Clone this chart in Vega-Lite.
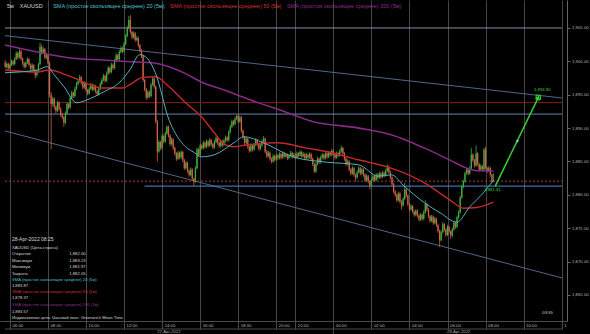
{
"$schema": "https://vega.github.io/schema/vega-lite/v6.json",
"width": 567, "height": 321,
"autosize": {"type": "none"},
"padding": {"left": 0, "top": 0, "right": 23, "bottom": 13},
"background": "#000000",
"config": {"view": {"stroke": null}, "font": "Liberation Sans"},
"resolve": {"scale": {"color": "independent"}},
"datasets": {
"k": [
{"i":-3,"o":1899.8,"h":1900.2,"l":1899.0,"c":1899.2},{"i":-2,"o":1899.2,"h":1899.9,"l":1898.9,"c":1899.6},{"i":-1,"o":1899.6,"h":1899.8,"l":1898.7,"c":1899.0},{"i":0,"o":1899.0,"h":1899.7,"l":1898.8,"c":1899.5},{"i":1,"o":1899.5,"h":1900.3,"l":1899.3,"c":1900.0},{"i":2,"o":1900.0,"h":1900.2,"l":1899.3,"c":1899.6},{"i":3,"o":1899.6,"h":1900.6,"l":1899.4,"c":1900.4},{"i":4,"o":1900.4,"h":1901.5,"l":1900.2,"c":1901.2},{"i":5,"o":1901.2,"h":1901.4,"l":1900.3,"c":1900.6},{"i":6,"o":1900.6,"h":1901.9,"l":1900.4,"c":1901.5},{"i":7,"o":1901.5,"h":1901.7,"l":1900.1,"c":1900.4},{"i":8,"o":1900.4,"h":1900.6,"l":1899.4,"c":1899.7},{"i":9,"o":1899.7,"h":1899.9,"l":1898.9,"c":1899.2},{"i":10,"o":1899.2,"h":1900.0,"l":1899.0,"c":1899.8},{"i":11,"o":1899.8,"h":1900.6,"l":1899.6,"c":1900.3},{"i":12,"o":1900.3,"h":1900.5,"l":1899.2,"c":1899.5},{"i":13,"o":1899.5,"h":1899.7,"l":1898.6,"c":1898.9},{"i":14,"o":1898.9,"h":1899.7,"l":1898.7,"c":1899.4},{"i":15,"o":1899.4,"h":1899.6,"l":1898.3,"c":1898.6},{"i":16,"o":1898.6,"h":1898.8,"l":1897.4,"c":1897.9},{"i":17,"o":1897.9,"h":1898.7,"l":1897.7,"c":1898.5},{"i":18,"o":1898.5,"h":1899.8,"l":1898.3,"c":1899.6},{"i":19,"o":1899.6,"h":1902.8,"l":1899.4,"c":1902.2},{"i":20,"o":1902.2,"h":1902.5,"l":1901.0,"c":1901.3},{"i":21,"o":1901.3,"h":1902.1,"l":1901.1,"c":1901.8},{"i":22,"o":1901.8,"h":1902.0,"l":1900.3,"c":1900.6},{"i":23,"o":1900.6,"h":1901.2,"l":1900.3,"c":1900.9},{"i":24,"o":1900.9,"h":1901.1,"l":1899.5,"c":1899.8},{"i":25,"o":1899.8,"h":1900.0,"l":1894.6,"c":1895.0},{"i":26,"o":1895.0,"h":1895.4,"l":1886.8,"c":1893.6},{"i":27,"o":1893.6,"h":1894.7,"l":1893.2,"c":1894.4},{"i":28,"o":1894.4,"h":1894.6,"l":1892.8,"c":1893.2},{"i":29,"o":1893.2,"h":1893.4,"l":1892.2,"c":1892.6},{"i":30,"o":1892.6,"h":1894.1,"l":1892.4,"c":1893.8},{"i":31,"o":1893.8,"h":1894.0,"l":1892.6,"c":1892.9},{"i":32,"o":1892.9,"h":1893.1,"l":1891.7,"c":1892.0},{"i":33,"o":1892.0,"h":1892.3,"l":1891.3,"c":1891.6},{"i":34,"o":1891.6,"h":1891.8,"l":1890.2,"c":1890.8},{"i":35,"o":1890.8,"h":1892.5,"l":1890.6,"c":1892.2},{"i":36,"o":1892.2,"h":1893.9,"l":1892.0,"c":1893.6},{"i":37,"o":1893.6,"h":1893.8,"l":1892.8,"c":1893.1},{"i":38,"o":1893.1,"h":1894.8,"l":1892.9,"c":1894.5},{"i":39,"o":1894.5,"h":1895.6,"l":1894.3,"c":1895.3},{"i":40,"o":1895.3,"h":1895.5,"l":1894.5,"c":1894.8},{"i":41,"o":1894.8,"h":1896.2,"l":1894.6,"c":1895.9},{"i":42,"o":1895.9,"h":1896.9,"l":1895.7,"c":1896.6},{"i":43,"o":1896.6,"h":1897.3,"l":1896.4,"c":1897.0},{"i":44,"o":1897.0,"h":1898.0,"l":1896.8,"c":1897.6},{"i":45,"o":1897.6,"h":1897.8,"l":1896.5,"c":1896.8},{"i":46,"o":1896.8,"h":1897.0,"l":1895.8,"c":1896.1},{"i":47,"o":1896.1,"h":1897.0,"l":1895.9,"c":1896.7},{"i":48,"o":1896.7,"h":1896.9,"l":1895.4,"c":1895.7},{"i":49,"o":1895.7,"h":1895.9,"l":1894.9,"c":1895.2},{"i":50,"o":1895.2,"h":1896.2,"l":1895.0,"c":1895.9},{"i":51,"o":1895.9,"h":1896.8,"l":1895.7,"c":1896.5},{"i":52,"o":1896.5,"h":1896.7,"l":1895.5,"c":1895.8},{"i":53,"o":1895.8,"h":1896.6,"l":1895.6,"c":1896.3},{"i":54,"o":1896.3,"h":1896.5,"l":1895.2,"c":1895.5},{"i":55,"o":1895.5,"h":1895.7,"l":1894.8,"c":1895.1},{"i":56,"o":1895.1,"h":1896.2,"l":1894.9,"c":1895.9},{"i":57,"o":1895.9,"h":1896.9,"l":1895.7,"c":1896.6},{"i":58,"o":1896.6,"h":1897.5,"l":1896.4,"c":1897.2},{"i":59,"o":1897.2,"h":1898.1,"l":1897.0,"c":1897.8},{"i":60,"o":1897.8,"h":1898.0,"l":1896.8,"c":1897.1},{"i":61,"o":1897.1,"h":1898.5,"l":1896.9,"c":1898.2},{"i":62,"o":1898.2,"h":1899.3,"l":1898.0,"c":1899.0},{"i":63,"o":1899.0,"h":1899.2,"l":1898.1,"c":1898.4},{"i":64,"o":1898.4,"h":1899.8,"l":1898.2,"c":1899.5},{"i":65,"o":1899.5,"h":1899.7,"l":1898.7,"c":1899.0},{"i":66,"o":1899.0,"h":1900.4,"l":1898.8,"c":1900.1},{"i":67,"o":1900.1,"h":1901.2,"l":1899.9,"c":1900.9},{"i":68,"o":1900.9,"h":1901.1,"l":1900.0,"c":1900.3},{"i":69,"o":1900.3,"h":1901.7,"l":1900.1,"c":1901.4},{"i":70,"o":1901.4,"h":1902.3,"l":1901.2,"c":1902.0},{"i":71,"o":1902.0,"h":1902.2,"l":1901.2,"c":1901.5},{"i":72,"o":1901.5,"h":1902.9,"l":1901.3,"c":1902.6},{"i":73,"o":1902.6,"h":1904.1,"l":1902.4,"c":1903.8},{"i":74,"o":1903.8,"h":1905.3,"l":1903.6,"c":1905.0},{"i":75,"o":1905.0,"h":1906.8,"l":1904.8,"c":1906.2},{"i":76,"o":1906.2,"h":1906.9,"l":1904.1,"c":1904.4},{"i":77,"o":1904.4,"h":1904.6,"l":1903.3,"c":1903.6},{"i":78,"o":1903.6,"h":1904.5,"l":1903.4,"c":1904.2},{"i":79,"o":1904.2,"h":1904.4,"l":1902.9,"c":1903.2},{"i":80,"o":1903.2,"h":1903.8,"l":1903.0,"c":1903.5},{"i":81,"o":1903.5,"h":1903.7,"l":1902.1,"c":1902.4},{"i":82,"o":1902.4,"h":1902.6,"l":1901.3,"c":1901.6},{"i":83,"o":1901.6,"h":1901.8,"l":1900.5,"c":1900.8},{"i":84,"o":1900.8,"h":1901.0,"l":1896.9,"c":1897.2},{"i":85,"o":1897.2,"h":1897.4,"l":1895.5,"c":1895.8},{"i":86,"o":1895.8,"h":1896.0,"l":1894.2,"c":1894.6},{"i":87,"o":1894.6,"h":1895.7,"l":1894.4,"c":1895.4},{"i":88,"o":1895.4,"h":1895.6,"l":1894.5,"c":1894.8},{"i":89,"o":1894.8,"h":1896.8,"l":1894.6,"c":1896.5},{"i":90,"o":1896.5,"h":1897.7,"l":1896.3,"c":1897.4},{"i":91,"o":1897.4,"h":1897.6,"l":1895.9,"c":1896.2},{"i":92,"o":1896.2,"h":1896.4,"l":1890.7,"c":1891.0},{"i":93,"o":1891.0,"h":1891.2,"l":1885.0,"c":1886.5},{"i":94,"o":1886.5,"h":1888.2,"l":1886.3,"c":1887.9},{"i":95,"o":1887.9,"h":1888.1,"l":1886.7,"c":1887.0},{"i":96,"o":1887.0,"h":1889.1,"l":1886.8,"c":1888.8},{"i":97,"o":1888.8,"h":1889.0,"l":1887.7,"c":1888.0},{"i":98,"o":1888.0,"h":1889.5,"l":1887.8,"c":1889.2},{"i":99,"o":1889.2,"h":1890.4,"l":1889.0,"c":1890.2},{"i":100,"o":1890.2,"h":1890.4,"l":1888.6,"c":1888.9},{"i":101,"o":1888.9,"h":1889.1,"l":1887.3,"c":1887.6},{"i":102,"o":1887.6,"h":1888.6,"l":1887.4,"c":1888.3},{"i":103,"o":1888.3,"h":1888.5,"l":1886.7,"c":1887.0},{"i":104,"o":1887.0,"h":1887.2,"l":1885.9,"c":1886.2},{"i":105,"o":1886.2,"h":1886.4,"l":1885.1,"c":1885.4},{"i":106,"o":1885.4,"h":1886.6,"l":1885.2,"c":1886.3},{"i":107,"o":1886.3,"h":1886.5,"l":1885.3,"c":1885.6},{"i":108,"o":1885.6,"h":1886.7,"l":1885.4,"c":1886.4},{"i":109,"o":1886.4,"h":1886.6,"l":1884.9,"c":1885.2},{"i":110,"o":1885.2,"h":1885.4,"l":1883.7,"c":1884.0},{"i":111,"o":1884.0,"h":1885.1,"l":1883.8,"c":1884.8},{"i":112,"o":1884.8,"h":1885.0,"l":1883.3,"c":1883.6},{"i":113,"o":1883.6,"h":1883.8,"l":1882.7,"c":1883.0},{"i":114,"o":1883.0,"h":1884.1,"l":1882.8,"c":1883.8},{"i":115,"o":1883.8,"h":1884.0,"l":1882.1,"c":1882.4},{"i":116,"o":1882.4,"h":1882.6,"l":1881.3,"c":1882.0},{"i":117,"o":1882.0,"h":1884.3,"l":1881.8,"c":1884.0},{"i":118,"o":1884.0,"h":1887.1,"l":1883.8,"c":1886.8},{"i":119,"o":1886.8,"h":1887.0,"l":1885.7,"c":1886.0},{"i":120,"o":1886.0,"h":1887.7,"l":1885.8,"c":1887.4},{"i":121,"o":1887.4,"h":1887.6,"l":1886.7,"c":1887.0},{"i":122,"o":1887.0,"h":1888.1,"l":1886.8,"c":1887.8},{"i":123,"o":1887.8,"h":1888.0,"l":1886.9,"c":1887.2},{"i":124,"o":1887.2,"h":1888.3,"l":1887.0,"c":1888.0},{"i":125,"o":1888.0,"h":1888.2,"l":1887.1,"c":1887.4},{"i":126,"o":1887.4,"h":1888.5,"l":1887.2,"c":1888.2},{"i":127,"o":1888.2,"h":1888.4,"l":1887.3,"c":1887.6},{"i":128,"o":1887.6,"h":1887.8,"l":1886.8,"c":1887.1},{"i":129,"o":1887.1,"h":1888.2,"l":1886.9,"c":1887.9},{"i":130,"o":1887.9,"h":1888.8,"l":1887.7,"c":1888.5},{"i":131,"o":1888.5,"h":1888.7,"l":1887.5,"c":1887.8},{"i":132,"o":1887.8,"h":1888.0,"l":1887.0,"c":1887.3},{"i":133,"o":1887.3,"h":1888.3,"l":1887.1,"c":1888.0},{"i":134,"o":1888.0,"h":1888.2,"l":1887.2,"c":1887.5},{"i":135,"o":1887.5,"h":1888.4,"l":1887.3,"c":1888.1},{"i":136,"o":1888.1,"h":1888.9,"l":1887.9,"c":1888.6},{"i":137,"o":1888.6,"h":1888.8,"l":1887.9,"c":1888.2},{"i":138,"o":1888.2,"h":1889.7,"l":1888.0,"c":1889.4},{"i":139,"o":1889.4,"h":1890.5,"l":1889.2,"c":1890.2},{"i":140,"o":1890.2,"h":1891.3,"l":1890.0,"c":1891.0},{"i":141,"o":1891.0,"h":1891.2,"l":1890.3,"c":1890.6},{"i":142,"o":1890.6,"h":1891.7,"l":1890.4,"c":1891.4},{"i":143,"o":1891.4,"h":1892.0,"l":1891.2,"c":1891.8},{"i":144,"o":1891.8,"h":1892.0,"l":1890.7,"c":1891.0},{"i":145,"o":1891.0,"h":1891.9,"l":1890.8,"c":1891.6},{"i":146,"o":1891.6,"h":1891.8,"l":1889.3,"c":1889.6},{"i":147,"o":1889.6,"h":1889.8,"l":1888.3,"c":1888.6},{"i":148,"o":1888.6,"h":1888.8,"l":1887.5,"c":1887.8},{"i":149,"o":1887.8,"h":1888.7,"l":1887.6,"c":1888.4},{"i":150,"o":1888.4,"h":1888.6,"l":1886.9,"c":1887.2},{"i":151,"o":1887.2,"h":1887.4,"l":1886.3,"c":1886.6},{"i":152,"o":1886.6,"h":1887.7,"l":1886.4,"c":1887.4},{"i":153,"o":1887.4,"h":1887.6,"l":1886.5,"c":1886.8},{"i":154,"o":1886.8,"h":1887.8,"l":1886.6,"c":1887.5},{"i":155,"o":1887.5,"h":1888.5,"l":1887.3,"c":1888.2},{"i":156,"o":1888.2,"h":1888.4,"l":1887.3,"c":1887.6},{"i":157,"o":1887.6,"h":1887.8,"l":1886.6,"c":1886.9},{"i":158,"o":1886.9,"h":1887.7,"l":1886.7,"c":1887.4},{"i":159,"o":1887.4,"h":1888.3,"l":1887.2,"c":1888.0},{"i":160,"o":1888.0,"h":1888.8,"l":1887.8,"c":1888.4},{"i":161,"o":1888.4,"h":1888.6,"l":1886.2,"c":1886.5},{"i":162,"o":1886.5,"h":1886.7,"l":1885.5,"c":1885.8},{"i":163,"o":1885.8,"h":1886.6,"l":1885.6,"c":1886.3},{"i":164,"o":1886.3,"h":1886.5,"l":1885.1,"c":1885.4},{"i":165,"o":1885.4,"h":1885.6,"l":1884.7,"c":1885.0},{"i":166,"o":1885.0,"h":1886.1,"l":1884.8,"c":1885.8},{"i":167,"o":1885.8,"h":1886.0,"l":1885.0,"c":1885.3},{"i":168,"o":1885.3,"h":1886.2,"l":1885.1,"c":1885.9},{"i":169,"o":1885.9,"h":1886.1,"l":1885.2,"c":1885.5},{"i":170,"o":1885.5,"h":1886.4,"l":1885.3,"c":1886.1},{"i":171,"o":1886.1,"h":1886.3,"l":1885.3,"c":1885.6},{"i":172,"o":1885.6,"h":1886.5,"l":1885.4,"c":1886.2},{"i":173,"o":1886.2,"h":1886.4,"l":1885.5,"c":1885.8},{"i":174,"o":1885.8,"h":1886.3,"l":1885.6,"c":1886.0},{"i":175,"o":1886.0,"h":1886.2,"l":1885.2,"c":1885.5},{"i":176,"o":1885.5,"h":1886.1,"l":1885.3,"c":1885.9},{"i":177,"o":1885.9,"h":1886.6,"l":1885.7,"c":1886.3},{"i":178,"o":1886.3,"h":1886.5,"l":1885.4,"c":1885.7},{"i":179,"o":1885.7,"h":1886.3,"l":1885.5,"c":1886.0},{"i":180,"o":1886.0,"h":1886.2,"l":1885.3,"c":1885.6},{"i":181,"o":1885.6,"h":1886.5,"l":1885.4,"c":1886.2},{"i":182,"o":1886.2,"h":1886.4,"l":1885.6,"c":1885.9},{"i":183,"o":1885.9,"h":1886.7,"l":1885.7,"c":1886.4},{"i":184,"o":1886.4,"h":1886.6,"l":1885.5,"c":1885.8},{"i":185,"o":1885.8,"h":1886.4,"l":1885.6,"c":1886.1},{"i":186,"o":1886.1,"h":1886.3,"l":1885.2,"c":1885.5},{"i":187,"o":1885.5,"h":1886.3,"l":1885.3,"c":1886.0},{"i":188,"o":1886.0,"h":1886.2,"l":1885.3,"c":1885.6},{"i":189,"o":1885.6,"h":1886.4,"l":1885.4,"c":1886.1},{"i":190,"o":1886.1,"h":1886.3,"l":1885.1,"c":1885.4},{"i":191,"o":1885.4,"h":1885.6,"l":1884.3,"c":1884.6},{"i":192,"o":1884.6,"h":1884.8,"l":1883.3,"c":1883.5},{"i":193,"o":1883.5,"h":1884.9,"l":1883.3,"c":1884.6},{"i":194,"o":1884.6,"h":1885.7,"l":1884.4,"c":1885.4},{"i":195,"o":1885.4,"h":1885.6,"l":1884.6,"c":1884.9},{"i":196,"o":1884.9,"h":1885.9,"l":1884.7,"c":1885.6},{"i":197,"o":1885.6,"h":1886.3,"l":1885.4,"c":1886.0},{"i":198,"o":1886.0,"h":1886.2,"l":1885.2,"c":1885.5},{"i":199,"o":1885.5,"h":1886.5,"l":1885.3,"c":1886.2},{"i":200,"o":1886.2,"h":1886.4,"l":1885.4,"c":1885.7},{"i":201,"o":1885.7,"h":1886.6,"l":1885.5,"c":1886.3},{"i":202,"o":1886.3,"h":1886.5,"l":1885.7,"c":1886.0},{"i":203,"o":1886.0,"h":1886.9,"l":1885.8,"c":1886.6},{"i":204,"o":1886.6,"h":1886.8,"l":1885.8,"c":1886.1},{"i":205,"o":1886.1,"h":1886.3,"l":1885.3,"c":1885.6},{"i":206,"o":1885.6,"h":1886.5,"l":1885.4,"c":1886.2},{"i":207,"o":1886.2,"h":1886.4,"l":1885.6,"c":1885.9},{"i":208,"o":1885.9,"h":1886.8,"l":1885.7,"c":1886.5},{"i":209,"o":1886.5,"h":1887.4,"l":1886.3,"c":1887.0},{"i":210,"o":1887.0,"h":1887.2,"l":1885.9,"c":1886.2},{"i":211,"o":1886.2,"h":1886.4,"l":1885.1,"c":1885.4},{"i":212,"o":1885.4,"h":1885.6,"l":1884.3,"c":1884.6},{"i":213,"o":1884.6,"h":1885.3,"l":1884.4,"c":1885.0},{"i":214,"o":1885.0,"h":1885.2,"l":1883.5,"c":1883.8},{"i":215,"o":1883.8,"h":1884.0,"l":1882.9,"c":1883.2},{"i":216,"o":1883.2,"h":1884.3,"l":1883.0,"c":1884.0},{"i":217,"o":1884.0,"h":1884.2,"l":1882.7,"c":1883.0},{"i":218,"o":1883.0,"h":1883.2,"l":1882.0,"c":1882.6},{"i":219,"o":1882.6,"h":1883.7,"l":1882.4,"c":1883.4},{"i":220,"o":1883.4,"h":1884.3,"l":1883.2,"c":1884.0},{"i":221,"o":1884.0,"h":1884.2,"l":1882.9,"c":1883.2},{"i":222,"o":1883.2,"h":1884.1,"l":1883.0,"c":1883.8},{"i":223,"o":1883.8,"h":1884.0,"l":1882.7,"c":1883.0},{"i":224,"o":1883.0,"h":1883.2,"l":1881.9,"c":1882.2},{"i":225,"o":1882.2,"h":1883.1,"l":1882.0,"c":1882.8},{"i":226,"o":1882.8,"h":1883.0,"l":1881.7,"c":1882.0},{"i":227,"o":1882.0,"h":1882.2,"l":1880.8,"c":1881.4},{"i":228,"o":1881.4,"h":1882.5,"l":1881.2,"c":1882.2},{"i":229,"o":1882.2,"h":1883.1,"l":1882.0,"c":1882.8},{"i":230,"o":1882.8,"h":1883.0,"l":1881.9,"c":1882.2},{"i":231,"o":1882.2,"h":1883.3,"l":1882.0,"c":1883.0},{"i":232,"o":1883.0,"h":1883.2,"l":1882.3,"c":1882.6},{"i":233,"o":1882.6,"h":1883.5,"l":1882.4,"c":1883.2},{"i":234,"o":1883.2,"h":1883.4,"l":1882.4,"c":1882.7},{"i":235,"o":1882.7,"h":1883.6,"l":1882.5,"c":1883.3},{"i":236,"o":1883.3,"h":1883.5,"l":1882.6,"c":1882.9},{"i":237,"o":1882.9,"h":1883.9,"l":1882.7,"c":1883.6},{"i":238,"o":1883.6,"h":1884.6,"l":1883.4,"c":1884.2},{"i":239,"o":1884.2,"h":1884.4,"l":1883.1,"c":1883.4},{"i":240,"o":1883.4,"h":1883.6,"l":1882.3,"c":1882.6},{"i":241,"o":1882.6,"h":1882.8,"l":1881.3,"c":1881.6},{"i":242,"o":1881.6,"h":1881.8,"l":1880.2,"c":1880.5},{"i":243,"o":1880.5,"h":1880.7,"l":1879.7,"c":1880.0},{"i":244,"o":1880.0,"h":1880.2,"l":1878.9,"c":1879.2},{"i":245,"o":1879.2,"h":1880.5,"l":1879.0,"c":1880.2},{"i":246,"o":1880.2,"h":1880.4,"l":1878.7,"c":1879.0},{"i":247,"o":1879.0,"h":1879.2,"l":1877.8,"c":1878.4},{"i":248,"o":1878.4,"h":1879.7,"l":1878.2,"c":1879.4},{"i":249,"o":1879.4,"h":1881.8,"l":1879.2,"c":1880.8},{"i":250,"o":1880.8,"h":1881.0,"l":1879.6,"c":1879.9},{"i":251,"o":1879.9,"h":1880.1,"l":1878.3,"c":1878.6},{"i":252,"o":1878.6,"h":1878.8,"l":1877.5,"c":1877.8},{"i":253,"o":1877.8,"h":1878.6,"l":1877.6,"c":1878.3},{"i":254,"o":1878.3,"h":1878.5,"l":1877.2,"c":1877.5},{"i":255,"o":1877.5,"h":1877.7,"l":1876.7,"c":1877.0},{"i":256,"o":1877.0,"h":1877.9,"l":1876.8,"c":1877.6},{"i":257,"o":1877.6,"h":1877.8,"l":1876.6,"c":1876.9},{"i":258,"o":1876.9,"h":1877.1,"l":1876.0,"c":1876.3},{"i":259,"o":1876.3,"h":1877.3,"l":1876.1,"c":1877.0},{"i":260,"o":1877.0,"h":1877.2,"l":1876.1,"c":1876.4},{"i":261,"o":1876.4,"h":1877.7,"l":1876.2,"c":1877.4},{"i":262,"o":1877.4,"h":1879.2,"l":1877.2,"c":1878.6},{"i":263,"o":1878.6,"h":1878.8,"l":1877.5,"c":1877.8},{"i":264,"o":1877.8,"h":1878.0,"l":1876.5,"c":1876.8},{"i":265,"o":1876.8,"h":1877.0,"l":1875.8,"c":1876.1},{"i":266,"o":1876.1,"h":1877.0,"l":1875.9,"c":1876.7},{"i":267,"o":1876.7,"h":1876.9,"l":1875.5,"c":1875.8},{"i":268,"o":1875.8,"h":1876.7,"l":1875.6,"c":1876.4},{"i":269,"o":1876.4,"h":1876.6,"l":1875.2,"c":1875.5},{"i":270,"o":1875.5,"h":1875.7,"l":1874.3,"c":1874.6},{"i":271,"o":1874.6,"h":1874.8,"l":1872.2,"c":1873.2},{"i":272,"o":1873.2,"h":1874.7,"l":1873.0,"c":1874.4},{"i":273,"o":1874.4,"h":1875.9,"l":1874.2,"c":1875.6},{"i":274,"o":1875.6,"h":1875.8,"l":1874.5,"c":1874.8},{"i":275,"o":1874.8,"h":1875.0,"l":1873.7,"c":1874.0},{"i":276,"o":1874.0,"h":1875.5,"l":1873.8,"c":1875.2},{"i":277,"o":1875.2,"h":1875.4,"l":1874.2,"c":1874.5},{"i":278,"o":1874.5,"h":1874.7,"l":1873.4,"c":1873.9},{"i":279,"o":1873.9,"h":1875.1,"l":1873.7,"c":1874.8},{"i":280,"o":1874.8,"h":1876.1,"l":1874.6,"c":1875.8},{"i":281,"o":1875.8,"h":1876.0,"l":1874.9,"c":1875.2},{"i":282,"o":1875.2,"h":1876.9,"l":1875.0,"c":1876.6},{"i":283,"o":1876.6,"h":1877.7,"l":1876.4,"c":1877.4},{"i":284,"o":1877.4,"h":1879.9,"l":1877.2,"c":1879.6},{"i":285,"o":1879.6,"h":1881.5,"l":1879.4,"c":1881.2},{"i":286,"o":1881.2,"h":1882.3,"l":1881.0,"c":1882.0},{"i":287,"o":1882.0,"h":1883.5,"l":1881.8,"c":1883.2},{"i":288,"o":1883.2,"h":1884.1,"l":1883.0,"c":1883.8},{"i":289,"o":1883.8,"h":1884.0,"l":1882.9,"c":1883.2},{"i":290,"o":1883.2,"h":1884.3,"l":1883.0,"c":1884.0},{"i":291,"o":1884.0,"h":1887.0,"l":1883.8,"c":1886.0},{"i":292,"o":1886.0,"h":1886.2,"l":1884.9,"c":1885.2},{"i":293,"o":1885.2,"h":1885.4,"l":1884.1,"c":1884.4},{"i":294,"o":1884.4,"h":1887.4,"l":1884.2,"c":1886.2},{"i":295,"o":1886.2,"h":1886.4,"l":1884.3,"c":1884.6},{"i":296,"o":1884.6,"h":1884.8,"l":1883.5,"c":1883.8},{"i":297,"o":1883.8,"h":1884.6,"l":1883.6,"c":1884.3},{"i":298,"o":1884.3,"h":1884.5,"l":1883.5,"c":1883.8},{"i":299,"o":1883.8,"h":1887.0,"l":1883.6,"c":1886.8},{"i":300,"o":1886.8,"h":1887.2,"l":1883.8,"c":1884.0},{"i":301,"o":1884.0,"h":1884.2,"l":1883.3,"c":1883.6},{"i":302,"o":1883.6,"h":1884.3,"l":1883.4,"c":1884.0},{"i":303,"o":1884.0,"h":1884.2,"l":1882.7,"c":1883.0},{"i":304,"o":1883.0,"h":1883.2,"l":1881.8,"c":1882.0},{"i":305,"o":1882.0,"h":1883.23,"l":1881.97,"c":1882.05}
],
"ma": [
{"s":"sma200","i":-3.1,"p":1902.45},{"s":"sma200","i":17.3,"p":1901.4},{"s":"sma200","i":38.4,"p":1900.5},{"s":"sma200","i":58.9,"p":1900.2},{"s":"sma200","i":79.3,"p":1899.9},{"s":"sma200","i":89.8,"p":1899.8},{"s":"sma200","i":100.4,"p":1899.2},{"s":"sma200","i":110.5,"p":1898.2},{"s":"sma200","i":120.8,"p":1896.9},{"s":"sma200","i":135.1,"p":1895.7},{"s":"sma200","i":151.8,"p":1894.2},{"s":"sma200","i":170.4,"p":1892.7},{"s":"sma200","i":190.8,"p":1891.0},{"s":"sma200","i":220.0,"p":1890.0},{"s":"sma200","i":240.4,"p":1889.0},{"s":"sma200","i":261.5,"p":1887.0},{"s":"sma200","i":277.6,"p":1885.2},{"s":"sma200","i":288.1,"p":1884.0},{"s":"sma200","i":296.2,"p":1883.6},{"s":"sma200","i":305.0,"p":1883.57},
{"s":"sma50","i":-3.1,"p":1898.7},{"s":"sma50","i":17.3,"p":1898.4},{"s":"sma50","i":24.8,"p":1898.7},{"s":"sma50","i":38.4,"p":1897.7},{"s":"sma50","i":58.9,"p":1896.0},{"s":"sma50","i":71.3,"p":1896.0},{"s":"sma50","i":75.6,"p":1896.5},{"s":"sma50","i":83.6,"p":1897.6},{"s":"sma50","i":91.7,"p":1897.7},{"s":"sma50","i":100.4,"p":1896.2},{"s":"sma50","i":110.3,"p":1893.9},{"s":"sma50","i":120.8,"p":1891.7},{"s":"sma50","i":128.9,"p":1889.3},{"s":"sma50","i":135.1,"p":1887.6},{"s":"sma50","i":141.3,"p":1887.2},{"s":"sma50","i":149.9,"p":1887.5},{"s":"sma50","i":168.5,"p":1887.8},{"s":"sma50","i":187.1,"p":1887.0},{"s":"sma50","i":203.2,"p":1886.3},{"s":"sma50","i":215.6,"p":1885.5},{"s":"sma50","i":226.1,"p":1884.9},{"s":"sma50","i":240.4,"p":1884.0},{"s":"sma50","i":261.5,"p":1881.8},{"s":"sma50","i":277.6,"p":1879.2},{"s":"sma50","i":286.2,"p":1878.0},{"s":"sma50","i":294.3,"p":1878.1},{"s":"sma50","i":305.0,"p":1878.9},
{"s":"sma20","i":-3.1,"p":1898.3},{"s":"sma20","i":17.3,"p":1898.7},{"s":"sma20","i":23.5,"p":1899.2},{"s":"sma20","i":27.9,"p":1898.0},{"s":"sma20","i":34.1,"p":1896.2},{"s":"sma20","i":42.1,"p":1893.8},{"s":"sma20","i":48.3,"p":1894.2},{"s":"sma20","i":58.9,"p":1895.4},{"s":"sma20","i":69.4,"p":1896.9},{"s":"sma20","i":75.6,"p":1898.7},{"s":"sma20","i":81.8,"p":1901.0},{"s":"sma20","i":85.5,"p":1900.7},{"s":"sma20","i":91.7,"p":1898.3},{"s":"sma20","i":100.4,"p":1891.2},{"s":"sma20","i":108.4,"p":1887.8},{"s":"sma20","i":116.5,"p":1886.3},{"s":"sma20","i":120.8,"p":1885.7},{"s":"sma20","i":128.9,"p":1886.0},{"s":"sma20","i":141.3,"p":1887.8},{"s":"sma20","i":147.5,"p":1888.7},{"s":"sma20","i":159.9,"p":1887.8},{"s":"sma20","i":178.4,"p":1885.7},{"s":"sma20","i":199.5,"p":1884.9},{"s":"sma20","i":220.0,"p":1884.5},{"s":"sma20","i":232.3,"p":1882.8},{"s":"sma20","i":240.4,"p":1883.0},{"s":"sma20","i":249.1,"p":1881.2},{"s":"sma20","i":261.5,"p":1878.8},{"s":"sma20","i":271.4,"p":1877.3},{"s":"sma20","i":281.9,"p":1875.9},{"s":"sma20","i":290.0,"p":1878.2},{"s":"sma20","i":298.6,"p":1880.3},{"s":"sma20","i":305.0,"p":1882.2}
],
"ln": [
{"n":"level","i":-3.1,"p":1905,"i2":348.2,"p2":1905},
{"n":"channel","i":-3.1,"p":1903.85,"i2":348.2,"p2":1894.51},
{"n":"channel","i":-3.1,"p":1889.57,"i2":348.2,"p2":1867.55},
{"n":"support","i":-3.1,"p":1892.1,"i2":348.2,"p2":1892.1},
{"n":"resist","i":-3.1,"p":1893.81,"i2":348.2,"p2":1893.81},
{"n":"bid","i":84.9,"p":1881.31,"i2":348.2,"p2":1881.31},
{"n":"frame","i":-3.1,"p":1859.9,"i2":348.2,"p2":1859.9},
{"n":"frame","i":204,"p":1859.9,"i2":204,"p2":1858.7}
],
"px": [{"i":-3.1,"p":1882.05,"i2":348.2,"p2":1882.05}],
"ar": [{"i":306.1,"p":1881.31},{"i":333.3,"p":1894.6}],
"mid": [{"i":320.0,"p":1888.05}],
"bd": [
{"s":"line","p":1893.81,"t":"1,893.85"},
{"s":"price","p":1882.05,"t":"1,882.05"},
{"s":"line","p":1881.31,"t":"1,881.31"}
],
"tx": [
{"r":"legend","s":"base","i":-1.9,"p":1908.3,"t":"5м"},
{"r":"legend","s":"base","i":6.2,"p":1908.3,"t":"XAUUSD"},
{"r":"legend","s":"sma20","i":27.3,"p":1908.3,"t":"SMA (простое скользящее среднее) 20  (5м)"},
{"r":"legend","s":"sma50","i":101.0,"p":1908.3,"t":"SMA (простое скользящее среднее) 50  (5м)"},
{"r":"legend","s":"sma200","i":174.7,"p":1908.3,"t":"SMA (простое скользящее среднее) 200  (5м)"},
{"r":"title","s":"base","i":1.24,"p":1873.4,"t":"28-Apr-2022 08:25"},
{"r":"label","s":"base","i":1.24,"p":1872.04,"t":"XAUUSD (Цена спроса)"},
{"r":"label","s":"base","i":1.24,"p":1871.07,"t":"Открытие"},
{"r":"label","s":"base","i":1.24,"p":1870.1,"t":"Максимум"},
{"r":"label","s":"base","i":1.24,"p":1869.12,"t":"Минимум"},
{"r":"label","s":"base","i":1.24,"p":1868.15,"t":"Закрыть"},
{"r":"label","s":"sma20","i":1.24,"p":1867.3,"t":"SMA (простое скользящее среднее) 20  (5м)"},
{"r":"label","s":"base","i":1.24,"p":1866.35,"t":"1,883.87"},
{"r":"label","s":"sma50","i":1.24,"p":1865.45,"t":"SMA (простое скользящее среднее) 50  (5м)"},
{"r":"label","s":"base","i":1.24,"p":1864.55,"t":"1,878.37"},
{"r":"label","s":"sma200","i":1.24,"p":1863.5,"t":"SMA (простое скользящее среднее) 200  (5м)"},
{"r":"label","s":"base","i":1.24,"p":1862.45,"t":"1,883.57"},
{"r":"value","s":"base","i":47.7,"p":1871.07,"t":"1,882.00"},
{"r":"value","s":"base","i":47.7,"p":1870.1,"t":"1,883.23"},
{"r":"value","s":"base","i":47.7,"p":1869.12,"t":"1,881.97"},
{"r":"value","s":"base","i":47.7,"p":1868.15,"t":"1,882.05"},
{"r":"label","s":"base","i":1.24,"p":1861.5,"t":"Индикативная цена"},
{"r":"label","s":"base","i":26.6,"p":1861.5,"t":"Часовой пояс: Greenwich Mean Time"},
{"r":"label","s":"base","i":335.8,"p":1862.3,"t":"03:55"},
{"r":"label","s":"dim","i":92.9,"p":1859.4,"t":"27-Apr-2022"},
{"r":"label","s":"dim","i":275.7,"p":1859.4,"t":"28-Apr-2022"},
{"r":"tag","s":"arrow","i":335.8,"p":1895.7,"t":"1,894.80"},
{"r":"tag","s":"arrow","i":304.2,"p":1880.7,"t":"1,881.31"}
]
},
"encoding": {
"x": {"field": "i", "type": "quantitative", "title": null,
 "scale": {"domain": [-3.1, 348.2], "nice": false, "zero": false},
 "axis": {"orient": "bottom", "values": [0,24,48,72,96,120,144,168,180,204,228,252,276,300,324,348],
  "labelExpr": "datum.value == 348 ? '1' : format(datum.value <= 168 ? 6 + datum.value / 12 : (22 + (datum.value - 180) / 12) % 24, '02d') + ':00'",
  "grid": true, "gridColor": "#454545", "gridWidth": 1,
  "tickSize": 8, "tickColor": "#4a4a4a", "domainColor": "#4a4a4a",
  "labelAlign": "left", "labelBaseline": "top", "labelOffset": 2, "labelPadding": -6,
  "labelFontSize": 4.3, "labelColor": "#b4b4b4", "labelFlush": false, "labelOverlap": false}},
"y": {"field": "p", "type": "quantitative", "title": null,
 "scale": {"domain": [1861.1, 1909.19], "nice": false, "zero": false},
 "axis": {"orient": "right", "values": [1865,1870,1875,1880,1885,1890,1895,1900,1905], "format": ",.2f",
  "grid": false, "tickSize": 3, "tickColor": "#666666", "domainColor": "#666666",
  "labelPadding": 1.5, "labelFontSize": 4.3, "labelColor": "#b4b4b4", "labelFlush": false, "labelOverlap": false}}
},
"layer": [
{"data": {"name": "ln"}, "mark": {"type": "rule", "strokeWidth": 1},
 "encoding": {"x2": {"field": "i2"}, "y2": {"field": "p2"},
  "color": {"field": "n", "type": "nominal", "legend": null,
   "scale": {"domain": ["level","channel","support","resist","bid","frame"], "range": ["#8390a2","#50668a","#6a84ac","#8a1c1c","#4a8ad0","#4a4a4a"]}}}},
{"data": {"name": "px"}, "mark": {"type": "rule", "strokeWidth": 1, "strokeDash": [2, 2], "color": "#a03a3a"},
 "encoding": {"x2": {"field": "i2"}, "y2": {"field": "p2"}}},
{"data": {"name": "k"}, "mark": {"type": "rule", "strokeWidth": 0.8},
 "encoding": {"y": {"field": "l", "type": "quantitative", "title": null, "scale": {"domain": [1861.1, 1909.19], "nice": false, "zero": false}},
  "y2": {"field": "h"},
  "color": {"condition": {"test": "datum.c >= datum.o", "value": "#3fae3f"}, "value": "#cf5f45"}}},
{"data": {"name": "k"}, "mark": {"type": "bar", "width": 1.3},
 "encoding": {"y": {"field": "o", "type": "quantitative", "title": null, "scale": {"domain": [1861.1, 1909.19], "nice": false, "zero": false}},
  "y2": {"field": "c"},
  "color": {"condition": {"test": "datum.c >= datum.o", "value": "#3fae3f"}, "value": "#cf5f45"}}},
{"data": {"name": "ma"}, "transform": [{"filter": "datum.s == 'sma200'"}], "mark": {"type": "line", "interpolate": "monotone", "strokeWidth": 1.6, "color": "#862a86"}, "encoding": {}},
{"data": {"name": "ma"}, "transform": [{"filter": "datum.s == 'sma50'"}], "mark": {"type": "line", "interpolate": "monotone", "strokeWidth": 1.4, "color": "#c22828"}, "encoding": {}},
{"data": {"name": "ma"}, "transform": [{"filter": "datum.s == 'sma20'"}], "mark": {"type": "line", "interpolate": "monotone", "strokeWidth": 1, "color": "#4fb2bf"}, "encoding": {}},
{"data": {"name": "ar"}, "mark": {"type": "line", "strokeWidth": 1.5, "color": "#33d233"}, "encoding": {}},
{"data": {"name": "ar"}, "transform": [{"filter": "datum.i > 320"}], "mark": {"type": "point", "shape": "triangle-up", "filled": true, "size": 28, "angle": 27, "color": "#33d233", "opacity": 1}, "encoding": {}},
{"data": {"name": "ar"}, "transform": [{"filter": "datum.i > 320"}], "mark": {"type": "point", "shape": "square", "filled": false, "size": 20, "strokeWidth": 1, "color": "#33d233", "opacity": 1}, "encoding": {}},
{"data": {"name": "mid"}, "mark": {"type": "point", "shape": "circle", "filled": true, "size": 7, "color": "#6ec8e0", "opacity": 1}, "encoding": {}},
{"data": {"values": [{}]}, "mark": {"type": "rect", "color": "#1e1e1e", "opacity": 0.95},
 "encoding": {"x": {"datum": 0, "type": "quantitative"}, "x2": {"datum": 51.4}, "y": {"datum": 1874.44, "type": "quantitative"}, "y2": {"datum": 1861.75}}},
{"data": {"name": "bd"}, "mark": {"type": "rule", "strokeWidth": 5.5, "strokeCap": "butt"},
 "encoding": {"x": {"datum": 348.8, "type": "quantitative"}, "x2": {"datum": 361.8},
  "color": {"condition": {"test": "datum.s == 'price'", "value": "#d84848"}, "value": "#3a82c8"}}},
{"data": {"name": "bd"}, "mark": {"type": "text", "fontSize": 4.3, "color": "#ffffff", "align": "center", "baseline": "middle"},
 "encoding": {"x": {"datum": 355.3, "type": "quantitative"}, "text": {"field": "t"}}},
{"data": {"name": "tx"}, "transform": [{"filter": "datum.r == 'legend'"}], "mark": {"type": "text", "fontSize": 5.5, "align": "left", "baseline": "middle"},
 "encoding": {"text": {"field": "t"}, "color": {"field": "s", "type": "nominal", "legend": null,
  "scale": {"domain": ["base","sma20","sma50","sma200","arrow","dim"], "range": ["#d6d6d6","#4fc1cf","#d43030","#8e2f8e","#36d636","#a8a8a8"]}}}},
{"data": {"name": "tx"}, "transform": [{"filter": "datum.r == 'title'"}], "mark": {"type": "text", "fontSize": 5, "align": "left", "baseline": "middle", "color": "#d6d6d6"},
 "encoding": {"text": {"field": "t"}}},
{"data": {"name": "tx"}, "transform": [{"filter": "datum.r == 'label'"}], "mark": {"type": "text", "fontSize": 4.2, "align": "left", "baseline": "middle"},
 "encoding": {"text": {"field": "t"}, "color": {"field": "s", "type": "nominal", "legend": null,
  "scale": {"domain": ["base","sma20","sma50","sma200","arrow","dim"], "range": ["#d6d6d6","#4fc1cf","#d43030","#8e2f8e","#36d636","#a8a8a8"]}}}},
{"data": {"name": "tx"}, "transform": [{"filter": "datum.r == 'value'"}], "mark": {"type": "text", "fontSize": 4.2, "align": "right", "baseline": "middle", "color": "#d6d6d6"},
 "encoding": {"text": {"field": "t"}}},
{"data": {"name": "tx"}, "transform": [{"filter": "datum.r == 'tag'"}], "mark": {"type": "text", "fontSize": 4.3, "align": "center", "baseline": "middle", "color": "#36d636"},
 "encoding": {"text": {"field": "t"}}}
]
}
